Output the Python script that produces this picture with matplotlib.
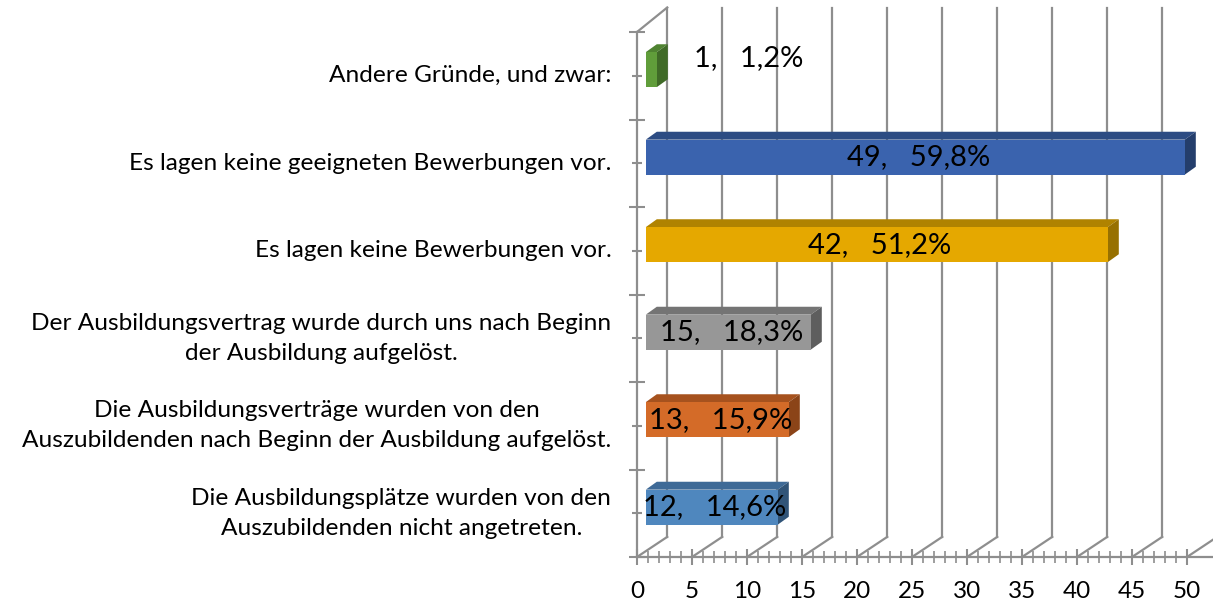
import numpy as np
import matplotlib.pyplot as plt

plt.rcParams['font.family'] = ['Lato', 'DejaVu Sans']

# categories from bottom to top
labels = [
    "Die Ausbildungsplätze wurden von den\nAuszubildenden nicht angetreten.",
    "Die Ausbildungsverträge wurden von den\nAuszubildenden nach Beginn der Ausbildung aufgelöst.",
    "Der Ausbildungsvertrag wurde durch uns nach Beginn\nder Ausbildung aufgelöst.",
    "Es lagen keine Bewerbungen vor.",
    "Es lagen keine geeigneten Bewerbungen vor.",
    "Andere Gründe, und zwar:",
]
counts = [12, 13, 15, 42, 49, 1]
percents = ["14,6%", "15,9%", "18,3%", "51,2%", "59,8%", "1,2%"]

front_colors = ["#4F87BE", "#D46B28", "#979797", "#E5A800", "#3A63AE", "#609D3A"]
top_colors = ["#3E6A97", "#A6521E", "#747474", "#B08300", "#2D4C83", "#4F8331"]
side_colors = ["#305478", "#8B4418", "#5E5E5E", "#977000", "#243E6C", "#3F6A27"]

grid_col = "#8E8E8E"

fig = plt.figure(figsize=(12.13, 6.05), dpi=100)
ax = fig.add_axes([637 / 1213, 48 / 605, 576 / 1213, 525 / 605])
ax.set_xlim(0, 50 * 576 / 550)
ax.set_ylim(0, 6)

# wall depth (data units)
dx, dy, dy_top = 2.75, 0.23, 0.28
# bar placement and depth
bx, by, bh = 0.8, 0.07, 0.2
ddx, ddy = 1.0, 0.09

# back wall and floor lines
for t in range(0, 55, 5):
    ax.plot([t, t + dx], [0, dy], color=grid_col, lw=1.6, zorder=1, clip_on=False)
    ax.plot([t + dx, t + dx], [dy, 6 + dy_top], color=grid_col, lw=1.6, zorder=1, clip_on=False)
ax.plot([0, dx], [6, 6 + dy_top], color=grid_col, lw=1.6, zorder=1, clip_on=False)

# 3d bars
for i, v in enumerate(counts):
    c = i + 0.5 + by
    yb, yt = c - bh, c + bh
    ax.fill([bx, bx + v, bx + v + ddx, bx + ddx], [yt, yt, yt + ddy, yt + ddy],
            color=top_colors[i], zorder=3, lw=0)
    ax.fill([bx + v, bx + v + ddx, bx + v + ddx, bx + v], [yb, yb + ddy, yt + ddy, yt],
            color=side_colors[i], zorder=3, lw=0)
    ax.barh(c, v, height=2 * bh, left=bx, color=front_colors[i], zorder=4)
    txt = f"{v},   {percents[i]}"
    if v < 5:
        ax.text(bx + v + ddx + 2.4, i + 0.7, txt, ha='left', va='center', fontsize=21, zorder=5)
    else:
        ax.text(bx + v / 2 + 0.3, c, txt, ha='center', va='center', fontsize=21, zorder=5)

for s in ['top', 'right']:
    ax.spines[s].set_visible(False)
for s in ['left', 'bottom']:
    ax.spines[s].set_color(grid_col)
    ax.spines[s].set_linewidth(1.6)
    ax.spines[s].set_zorder(2)

ax.set_xticks(range(0, 55, 5))
ax.set_xticks(range(0, 51), minor=True)
ax.set_yticks(np.arange(6) + 0.5)
ax.set_yticks(range(0, 7), minor=True)
ax.set_yticklabels(labels, fontsize=17.6, va='center', multialignment='center')
for t in ax.get_yticklabels():
    t.set_linespacing(1.55)
ax.tick_params(axis='x', which='major', direction='inout', length=11, width=1.5,
               color=grid_col, labelsize=17.5, pad=12)
ax.tick_params(axis='x', which='minor', direction='inout', length=8, width=1.2, color=grid_col)
ax.tick_params(axis='y', which='major', direction='inout', length=7, width=1.5,
               color=grid_col, pad=15)
ax.tick_params(axis='y', which='minor', direction='inout', length=12, width=1.5, color=grid_col)

fig.savefig("out.png", dpi=100)
